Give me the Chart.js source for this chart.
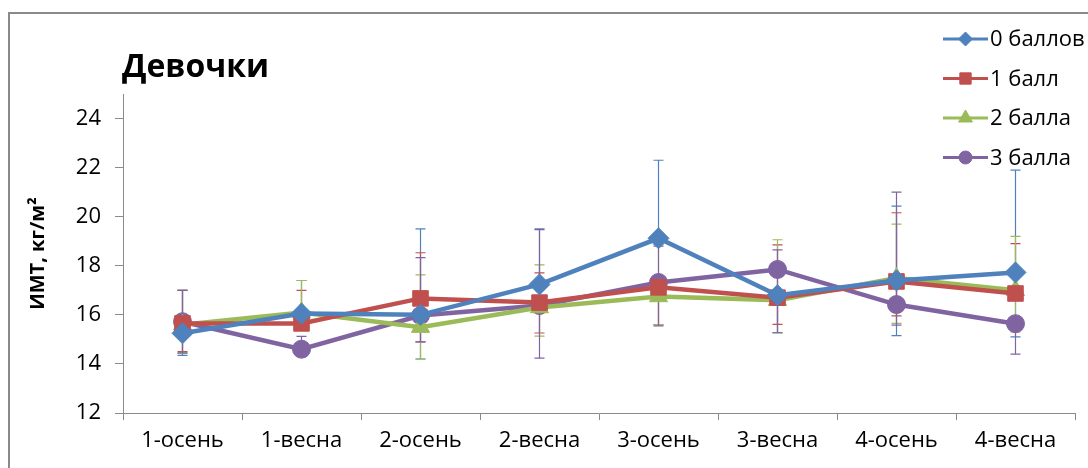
<!DOCTYPE html>
<html><head><meta charset="utf-8">
<script src="https://cdn.jsdelivr.net/npm/chart.js@4.4.0/dist/chart.umd.min.js"></script>
<style>html,body{margin:0;padding:0;background:#fff;}#wrap{width:1088px;height:468px;position:relative;}</style>
</head><body><div id="wrap"><canvas id="c" width="1088" height="468"></canvas></div>
<script>
const categories = ['1-осень','1-весна','2-осень','2-весна','3-осень','3-весна','4-осень','4-весна'];
const seriesNames = ['0 баллов','1 балл','2 балла','3 балла'];
const yTicks = [12,14,16,18,20,22,24];

const s0 = [15.25, 16.05, 16.0, 17.24, 19.12, 16.8, 17.4, 17.73];
const s1 = [15.65, 15.65, 16.67, 16.5, 17.12, 16.7, 17.36, 16.87];
const s2 = [15.6, 16.1, 15.5, 16.3, 16.75, 16.6, 17.5, 17.0];
const s3 = [15.72, 14.6, 15.97, 16.38, 17.32, 17.85, 16.42, 15.64];

const s0hi = [17.0, 17.4, 19.5, 19.5, 22.3, 16.8, 20.43, 21.9];
const s0lo = [14.35, 16.05, 14.2, 17.24, 19.12, 15.27, 15.15, 15.1];
const s1hi = [17.0, 17.0, 18.53, 17.71, 17.12, 18.85, 20.16, 18.9];
const s1lo = [14.5, 15.65, 14.9, 15.26, 15.6, 15.61, 15.96, 16.87];
const s2hi = [17.0, 17.4, 17.63, 18.04, 18.86, 19.06, 19.7, 19.2];
const s2lo = [14.43, 16.1, 14.2, 15.13, 15.6, 15.27, 15.65, 15.31];
const s3hi = [17.0, 15.12, 18.33, 19.47, 18.8, 18.65, 21.0, 15.64];
const s3lo = [14.45, 14.6, 14.9, 14.24, 15.55, 15.27, 15.58, 14.4];

const colors = ['#4F81BD','#C0504D','#9BBB59','#8064A2'];
const styles = ['rectRot','rect','triangle','circle'];
const radii = [10.5, 11, 10.5, 9];
const legendRadii = [7, 8, 8, 6.5];
const values = [s0,s1,s2,s3];
const his = [s0hi,s1hi,s2hi,s3hi];
const los = [s0lo,s1lo,s2lo,s3lo];

const FONT = '"Open Sans", "Noto Sans", sans-serif';

const datasets = values.map((v,i)=>({
  label: seriesNames[i], data: v, borderColor: colors[i], backgroundColor: colors[i],
  borderWidth: 4.5, pointStyle: styles[i], pointRadius: radii[i], pointHoverRadius: radii[i],
  pointBorderWidth: 1, pointBorderColor: colors[i], tension: 0,
  hi: his[i], lo: los[i]
}));

const framePlugin = {
  id: 'frame',
  beforeDraw(chart){
    const ctx = chart.ctx;
    ctx.save();
    ctx.strokeStyle = '#8a8a8a'; ctx.lineWidth = 2;
    ctx.beginPath(); ctx.moveTo(9, 470); ctx.lineTo(9, 13); ctx.lineTo(1090, 13); ctx.stroke();
    ctx.fillStyle = '#000'; ctx.font = 'bold 32px ' + FONT; ctx.textBaseline = 'alphabetic';
    ctx.fillText('Девочки', 122, 77);
    ctx.restore();
  },
  beforeDatasetsDraw(chart){
    const ctx = chart.ctx, x = chart.scales.x, y = chart.scales.y;
    ctx.save(); ctx.lineWidth = 1.2;
    chart.data.datasets.forEach((ds,i)=>{
      ctx.strokeStyle = ds.borderColor;
      ds.data.forEach((v,j)=>{
        const px = x.getPixelForValue(j);
        const segs = [];
        if (ds.hi[j] > v) segs.push(ds.hi[j]);
        if (ds.lo[j] < v) segs.push(ds.lo[j]);
        segs.forEach(e=>{
          const py = y.getPixelForValue(v), pe = y.getPixelForValue(e);
          ctx.beginPath(); ctx.moveTo(px, py); ctx.lineTo(px, pe);
          ctx.moveTo(px-5, pe); ctx.lineTo(px+5, pe); ctx.stroke();
        });
      });
    });
    ctx.restore();
  },
  afterDraw(chart){
    const ctx = chart.ctx;
    ctx.save();
    chart.data.datasets.forEach((ds,i)=>{
      const yy = 39 + i*39.5;
      ctx.strokeStyle = ds.borderColor; ctx.lineWidth = 3;
      ctx.beginPath(); ctx.moveTo(943, yy); ctx.lineTo(988, yy); ctx.stroke();
      ctx.fillStyle = ds.backgroundColor; ctx.strokeStyle = ds.borderColor; ctx.lineWidth = 1;
      Chart.helpers.drawPoint(ctx, {pointStyle: ds.pointStyle, radius: legendRadii[i], borderWidth: 1}, 965.5, yy);
      ctx.fillStyle = '#000'; ctx.font = '22px ' + FONT; ctx.textBaseline = 'middle';
      ctx.fillText(ds.label, 990, yy + 1);
    });
    ctx.restore();
  }
};

new Chart(document.getElementById('c'), {
  type: 'line',
  data: { labels: categories, datasets },
  plugins: [framePlugin],
  options: {
    responsive: false, animation: false, devicePixelRatio: 1,
    layout: { padding: { top: 94, right: 13, left: 0, bottom: 0 } },
    plugins: { legend: { display: false }, title: { display: false }, tooltip: { enabled: false } },
    scales: {
      x: {
        offset: true,
        grid: { display: true, offset: true, drawOnChartArea: false, drawTicks: true, tickLength: 7, color: '#8a8a8a', tickColor: '#8a8a8a' },
        border: { display: true, color: '#8a8a8a', width: 1 },
        ticks: { color: '#000', font: { family: FONT, size: 22 }, padding: 8, maxRotation: 0, autoSkip: false },
        afterFit(s){ s.height = 55; }
      },
      y: {
        min: 12, max: 25,
        afterBuildTicks(s){ s.ticks = yTicks.map(v=>({value:v})); },
        grid: { display: true, drawOnChartArea: false, drawTicks: true, tickLength: 8, color: '#8a8a8a', tickColor: '#8a8a8a' },
        border: { display: true, color: '#8a8a8a', width: 1 },
        ticks: { color: '#000', font: { family: FONT, size: 22 }, padding: 14 },
        title: { display: true, text: 'ИМТ, кг/м²', color: '#000', font: { family: FONT, size: 20, weight: 'bold' }, padding: { top: 26, bottom: 0 } },
        afterFit(s){ s.width = 123; }
      }
    }
  }
});
</script></body></html>
